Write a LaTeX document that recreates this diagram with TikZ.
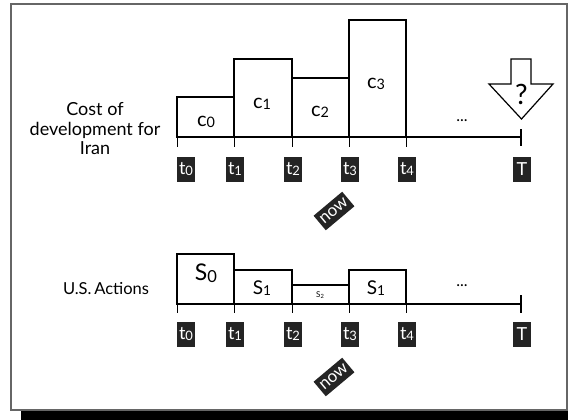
\documentclass[tikz,border=0pt]{standalone}
\usepackage{fontspec}
\setmainfont{Lato}
\usetikzlibrary{positioning, calc}

\newcommand{\lowsub}[1]{\raisebox{-0.15ex}{\fontsize{0.72em}{1em}\selectfont #1}}
\newcommand{\fsz}[1]{\fontsize{#1}{19.5}\selectfont}

\tikzset{
  bar/.style={draw, line width=1.8pt, fill=white},
  axisline/.style={line width=2.6pt},
  tickmark/.style={line width=0.9pt},
  endmark/.style={line width=1.6pt},
  tbox/.style={fill=black!86, text=white, minimum width=18pt, minimum height=25pt,
    inner sep=0pt, font=\fsz{18}},
  nowtag/.style={fill=black!86, text=white, rotate=40, inner sep=2.5pt,
    minimum height=19pt, font=\fsz{17}},
  sidelabel/.style={align=center, font=\fsz{18}},
}

\begin{document}
\begin{tikzpicture}[x=1pt, y=-1pt]
\useasboundingbox (0,0) rectangle (568,420);
% frame and shadow
\fill[black] (21,410) rectangle (568,420);
\draw[black!60, line width=1.2pt] (11,4) rectangle (567,410);

% ---- cost of development ----
\node[sidelabel] (cost) at (95,129) {Cost of\\development for\\Iran};
\foreach \xa/\xb/\top in {177/234/97, 234/292/59, 292/349/78, 349/406/20}
  \draw[bar] (\xa,\top) rectangle (\xb,137);
\node[font=\fsz{20}] (c0) at (206,122) {c\lowsub{0}};
\node[font=\fsz{20}] (c1) at (262,104) {c\lowsub{1}};
\node[font=\fsz{20}] (c2) at (320,112) {c\lowsub{2}};
\node[font=\fsz{20}] (c3) at (376,84) {c\lowsub{3}};
\foreach \x [count=\i from 0] in {177,234,292,349,406}
  \coordinate (ca\i) at (\x,137);
\coordinate (cT) at (521,137);
\draw[axisline] (ca0) -- (cT);
\foreach \i in {0,...,4}
  \draw[tickmark] (ca\i) -- ++(0,10);
\draw[endmark] ($(cT)+(0,-8)$) -- ($(cT)+(0,9)$);
\node[font=\fsz{16}] (cdots) at (462,121) {...};
% arrow with question mark
\draw[line width=1.2pt, fill=white] (511,59) -- (531,59) -- (531,84) -- (553,84)
  -- (521.5,119) -- (489,84) -- (511,84) -- cycle;
\node[font=\fsz{28}] (qm) at (521.5,94) {?};
% time labels
\node[tbox] (ct0) at (186,169) {t\lowsub{0}};
\node[tbox] (ct1) at (235,169) {t\lowsub{1}};
\node[tbox] (ct2) at (293,169) {t\lowsub{2}};
\node[tbox] (ct3) at (350,169) {t\lowsub{3}};
\node[tbox] (ct4) at (407,169) {t\lowsub{4}};
\node[tbox] (ctT) at (522,169) {T};
\node[nowtag] (cnow) at (334,211) {now};

% ---- U.S. actions ----
\node[sidelabel, font=\fsz{16.5}] (us) at (106,289) {U.S.\,Actions};
\foreach \xa/\xb/\top in {177/234/254, 234/292/270, 292/349/285, 349/406/270}
  \draw[bar] (\xa,\top) rectangle (\xb,304);
\node[font=\fsz{23}] (s0) at (206,273) {S\lowsub{0}};
\node[font=\fsz{19}] (s1) at (262,288) {S\lowsub{1}};
\node[font=\fsz{8}] (s2) at (320,295) {S\lowsub{2}};
\node[font=\fsz{19}] (s3) at (376,288) {S\lowsub{1}};
\foreach \x [count=\i from 0] in {177,234,292,349,406}
  \coordinate (sa\i) at (\x,304);
\coordinate (sT) at (521,304);
\draw[axisline] (sa0) -- (sT);
\foreach \i in {0,...,4}
  \draw[tickmark] (sa\i) -- ++(0,9);
\draw[endmark] ($(sT)+(0,-9)$) -- ($(sT)+(0,9)$);
\node[font=\fsz{16}] (sdots) at (462,286) {...};
% time labels
\node[tbox] (st0) at (186,334) {t\lowsub{0}};
\node[tbox] (st1) at (235,334) {t\lowsub{1}};
\node[tbox] (st2) at (293,334) {t\lowsub{2}};
\node[tbox] (st3) at (350,334) {t\lowsub{3}};
\node[tbox] (st4) at (407,334) {t\lowsub{4}};
\node[tbox] (stT) at (522,334) {T};
\node[nowtag] (snow) at (334,377) {now};
\end{tikzpicture}
\end{document}
